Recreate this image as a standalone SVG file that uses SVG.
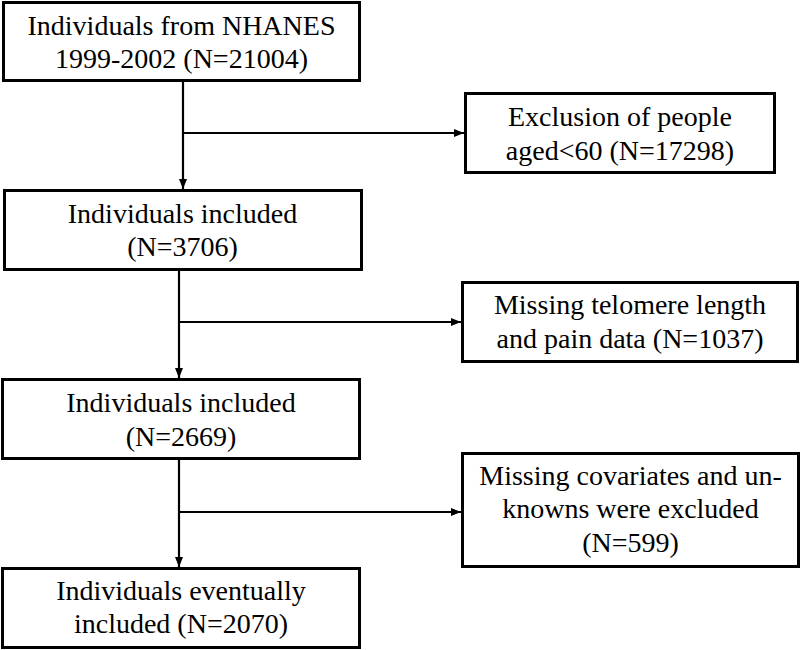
<svg xmlns="http://www.w3.org/2000/svg" width="800" height="650" viewBox="0 0 800 650">
<style>
.box{fill:#fff;stroke:#000;stroke-width:3}
.t{font-family:'Liberation Serif','DejaVu Serif',serif;font-size:28px;fill:#000;text-anchor:middle}
.c{stroke:#000;stroke-width:2.2;fill:none}
</style>
<defs>
<marker id="ah" viewBox="0 0 10 10" refX="10" refY="5" markerWidth="10" markerHeight="10" markerUnits="userSpaceOnUse" orient="auto">
<path d="M0,1 L10,5 L0,9 Z" fill="#000"/>
</marker>
</defs>
<rect width="800" height="650" fill="#fff"/>
<g id="connectors">
<line class="c" x1="183" y1="81" x2="183" y2="189" marker-end="url(#ah)"/>
<line class="c" x1="183" y1="133" x2="464" y2="133" marker-end="url(#ah)"/>
<line class="c" x1="179" y1="270" x2="179" y2="378" marker-end="url(#ah)"/>
<line class="c" x1="179" y1="322" x2="461" y2="322" marker-end="url(#ah)"/>
<line class="c" x1="179" y1="459" x2="179" y2="567" marker-end="url(#ah)"/>
<line class="c" x1="179" y1="512" x2="461" y2="512" marker-end="url(#ah)"/>
</g>
<g id="n1">
<rect class="box" x="3.5" y="2.5" width="356" height="78"/>
<text class="t" x="181.5" y="35" font-family="Liberation Serif">Individuals from NHANES</text>
<text class="t" x="181.5" y="68" font-family="Liberation Serif">1999-2002 (N=21004)</text>
</g>
<g id="n2">
<rect class="box" x="465.5" y="93.5" width="309" height="79"/>
<text class="t" x="620" y="126">Exclusion of people</text>
<text class="t" x="620" y="160">aged&lt;60 (N=17298)</text>
</g>
<g id="n3">
<rect class="box" x="4.5" y="190.5" width="357" height="79"/>
<text class="t" x="182.5" y="223">Individuals included</text>
<text class="t" x="182.5" y="256">(N=3706)</text>
</g>
<g id="n4">
<rect class="box" x="462.5" y="282.5" width="335" height="79"/>
<text class="t" x="630" y="314">Missing telomere length</text>
<text class="t" x="630" y="348">and pain data (N=1037)</text>
</g>
<g id="n5">
<rect class="box" x="2.5" y="379.5" width="357" height="79"/>
<text class="t" x="181" y="412">Individuals included</text>
<text class="t" x="181" y="446">(N=2669)</text>
</g>
<g id="n6">
<rect class="box" x="462.5" y="453.5" width="336" height="113"/>
<text class="t" x="630.5" y="485">Missing covariates and un-</text>
<text class="t" x="630.5" y="518">knowns were excluded</text>
<text class="t" x="630.5" y="552">(N=599)</text>
</g>
<g id="n7">
<rect class="box" x="2.5" y="568.5" width="357" height="79"/>
<text class="t" x="181" y="600">Individuals eventually</text>
<text class="t" x="181" y="633">included (N=2070)</text>
</g>
</svg>
